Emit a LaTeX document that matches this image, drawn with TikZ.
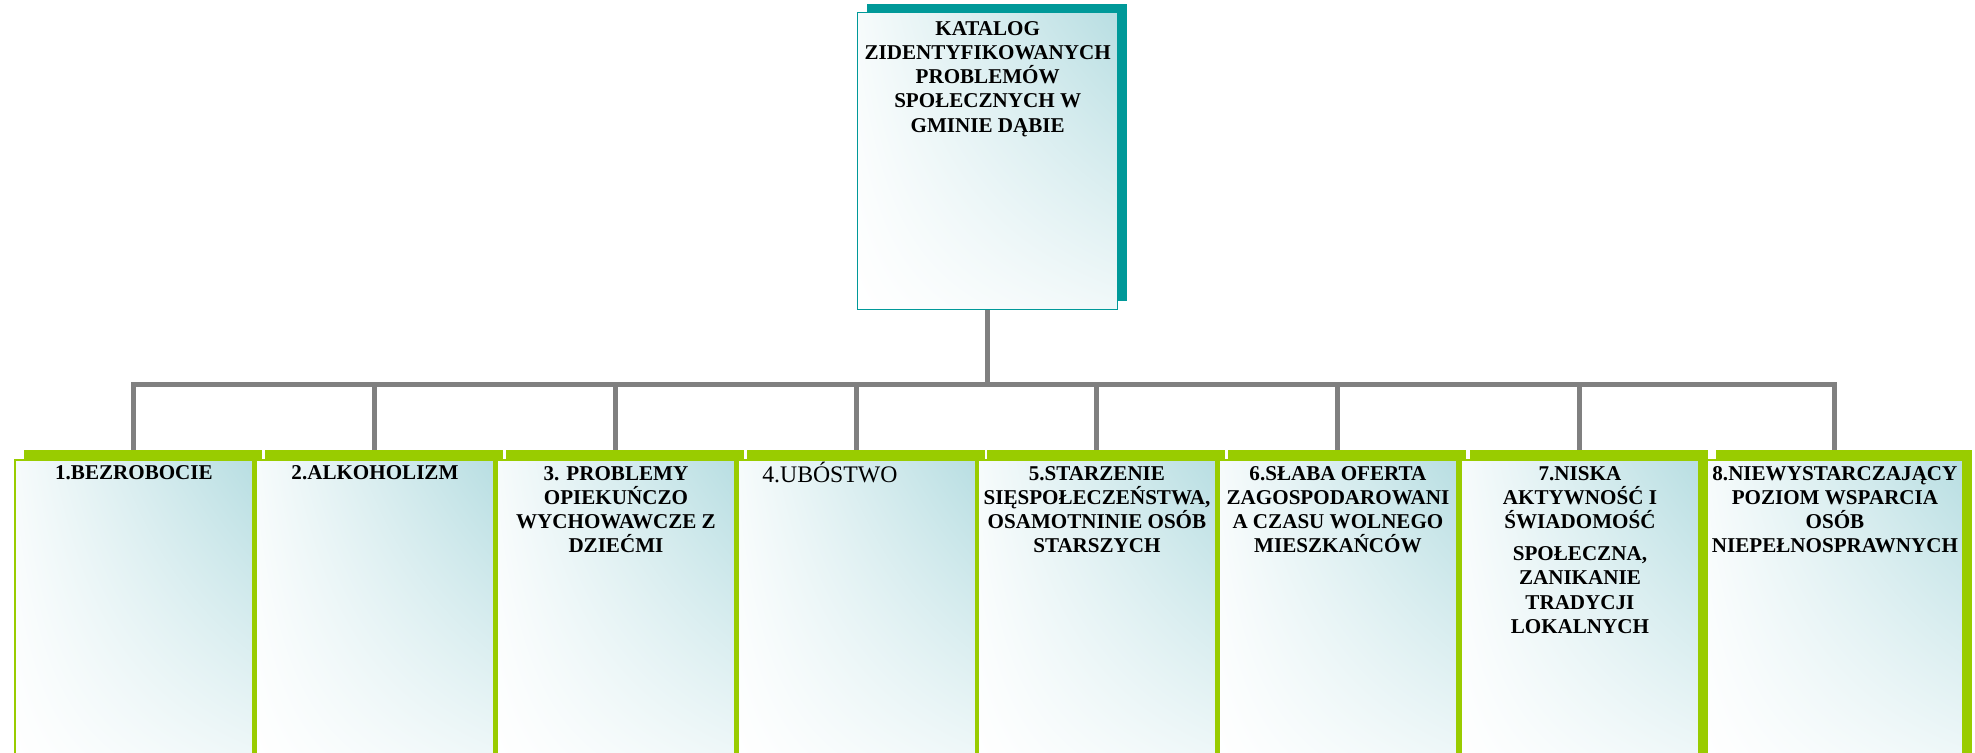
\documentclass[tikz,border=0pt]{standalone}
\usepackage{fontspec}
\setmainfont{Liberation Serif}
\usepackage{xcolor}
\definecolor{Teal}{RGB}{0,153,153}
\definecolor{Green}{RGB}{153,204,0}
\definecolor{Gray}{RGB}{128,128,128}
\definecolor{Aqua}{RGB}{184,222,226}
\definecolor{Black}{RGB}{0,0,0}
\definecolor{White}{RGB}{255,255,255}
\usepackage{tikz}
\usetikzlibrary{shadings}

\tikzset{
	topshadow/.style={fill=Teal, anchor=north west, inner sep=0pt, minimum width=5.2cm, minimum height=5.94cm},
	topbox/.style={draw=Teal, line width=0.8pt, anchor=north west, inner sep=0pt, minimum width=5.2cm, minimum height=5.94cm,
		upper right=Aqua, upper left=Aqua!12, lower right=Aqua!20, lower left=White},
	probshadow/.style={fill=Green, anchor=north west, inner sep=0pt, minimum width=4.76cm, minimum height=6.2cm},
	probbox/.style={draw=Green, line width=1.1pt, anchor=north west, inner sep=0pt, minimum width=4.76cm, minimum height=6.2cm,
		upper right=Aqua, upper left=Aqua!12, lower right=Aqua!20, lower left=White},
	boxtext/.style={anchor=north, align=center, inner sep=0pt, color=Black, font=\fontsize{12}{13.8}\selectfont\bfseries},
	link/.style={draw=Gray, line width=0.1cm}
}

\begin{document}
\begin{tikzpicture}[x=0.02cm, y=-0.02cm]
		
		\clip (0,0) rectangle (1975,752);
		
		% Catalogue
		\node[topshadow] (katalogs) at (867,4) {};
		\node[topbox] (katalog) at (857,12) {};
		\node[boxtext] (katalogt) at ([yshift=-5pt]katalog.north) {KATALOG\\ZIDENTYFIKOWANYCH\\PROBLEMÓW\\SPOŁECZNYCH W\\GMINIE DĄBIE};
		
		% Problems
		\node[probshadow] (b1s) at (24,450) {};
		\node[probbox] (b1) at (14,459) {};
		\node[boxtext] (b1t) at ([yshift=-3.4pt]b1.north) {1.BEZROBOCIE};
		
		\node[probshadow] (b2s) at (265,450) {};
		\node[probbox] (b2) at (255,459) {};
		\node[boxtext] (b2t) at ([yshift=-3.4pt]b2.north) {2.ALKOHOLIZM};
		
		\node[probshadow] (b3s) at (506,450) {};
		\node[probbox] (b3) at (496,459) {};
		\node[boxtext] (b3t) at ([yshift=-3.8pt]b3.north) {3. PROBLEMY\\OPIEKUŃCZO\\WYCHOWAWCZE Z\\DZIEĆMI};
		
		\node[probshadow] (b4s) at (747,450) {};
		\node[probbox] (b4) at (737,459) {};
		\node[anchor=base west, inner sep=0pt, color=Black, font=\fontsize{13.5}{15}\selectfont] (b4t) at ([xshift=0.5cm, yshift=-0.46cm]b4.north west) {4.UBÓSTWO};
		
		\node[probshadow] (b5s) at (987,450) {};
		\node[probbox] (b5) at (977,459) {};
		\node[boxtext] (b5t) at ([yshift=-3.8pt]b5.north) {5.STARZENIE\\SIĘSPOŁECZEŃSTWA,\\OSAMOTNINIE OSÓB\\STARSZYCH};
		
		\node[probshadow] (b6s) at (1228,450) {};
		\node[probbox] (b6) at (1218,459) {};
		\node[boxtext] (b6t) at ([yshift=-3.8pt]b6.north) {6.SŁABA OFERTA\\ZAGOSPODAROWANI\\A CZASU WOLNEGO\\MIESZKAŃCÓW};
		
		\node[probshadow] (b7s) at (1470,450) {};
		\node[probbox] (b7) at (1460,459) {};
		\node[boxtext] (b7t) at ([yshift=-3.8pt]b7.north) {7.NISKA\\AKTYWNOŚĆ I\\ŚWIADOMOŚĆ\\[4.5pt]SPOŁECZNA,\\ZANIKANIE\\TRADYCJI\\LOKALNYCH};
		
		\node[probshadow, minimum width=5.12cm] (b8s) at (1716,450) {};
		\node[probbox, minimum width=5.12cm] (b8) at (1706,459) {};
		\node[boxtext] (b8t) at ([yshift=-3.8pt]b8.north) {8.NIEWYSTARCZAJĄCY\\POZIOM WSPARCIA\\OSÓB\\NIEPEŁNOSPRAWNYCH};
		
		% Lines
		\coordinate (bus) at (987,384);
		\draw[link] (katalog.south) -- (katalog.south |- bus);
		\draw[link] (b1.north |- b1s.north) |- (b8.north |- bus) -- (b8.north |- b8s.north);
		\draw[link] (b2.north |- bus) -- (b2.north |- b2s.north);
		\draw[link] (b3.north |- bus) -- (b3.north |- b3s.north);
		\draw[link] (b4.north |- bus) -- (b4.north |- b4s.north);
		\draw[link] (b5.north |- bus) -- (b5.north |- b5s.north);
		\draw[link] (b6.north |- bus) -- (b6.north |- b6s.north);
		\draw[link] (b7.north |- bus) -- (b7.north |- b7s.north);
		
	\end{tikzpicture}
\end{document}
